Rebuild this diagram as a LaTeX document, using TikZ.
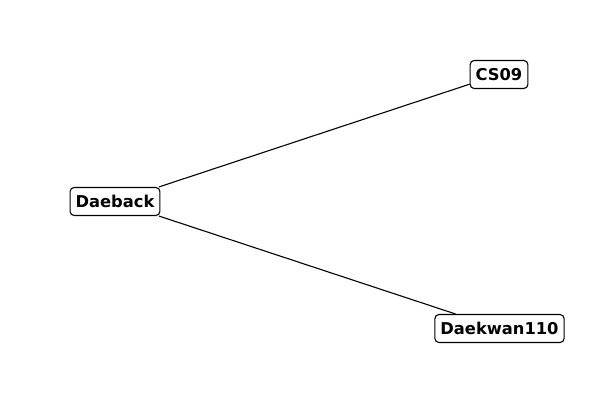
\documentclass[tikz,border=0pt]{standalone}
\usepackage{fontspec}
\setmainfont{DejaVu Sans}
\begin{document}
\begin{tikzpicture}[x=1pt,y=-1pt,
  lbl/.style={draw=black,line width=1.1pt,fill=white,rounded corners=4pt,
    font=\fontsize{16.3}{19}\selectfont\bfseries,inner xsep=5.5pt,inner ysep=0pt,
    minimum height=28pt,text height=12pt,text depth=0pt},
  edge/.style={draw=black,line width=1.1pt}]
\useasboundingbox (0,0) rectangle (600,400);
\node[lbl] (daeback) at (115,201.5) {Daeback};
\node[lbl] (cs09) at (499,74.5) {CS09};
\node[lbl] (daekwan) at (499.5,328.5) {Daekwan110};
\draw[edge] (daeback) -- (cs09);
\draw[edge] (daeback) -- (daekwan);
\end{tikzpicture}
\end{document}
